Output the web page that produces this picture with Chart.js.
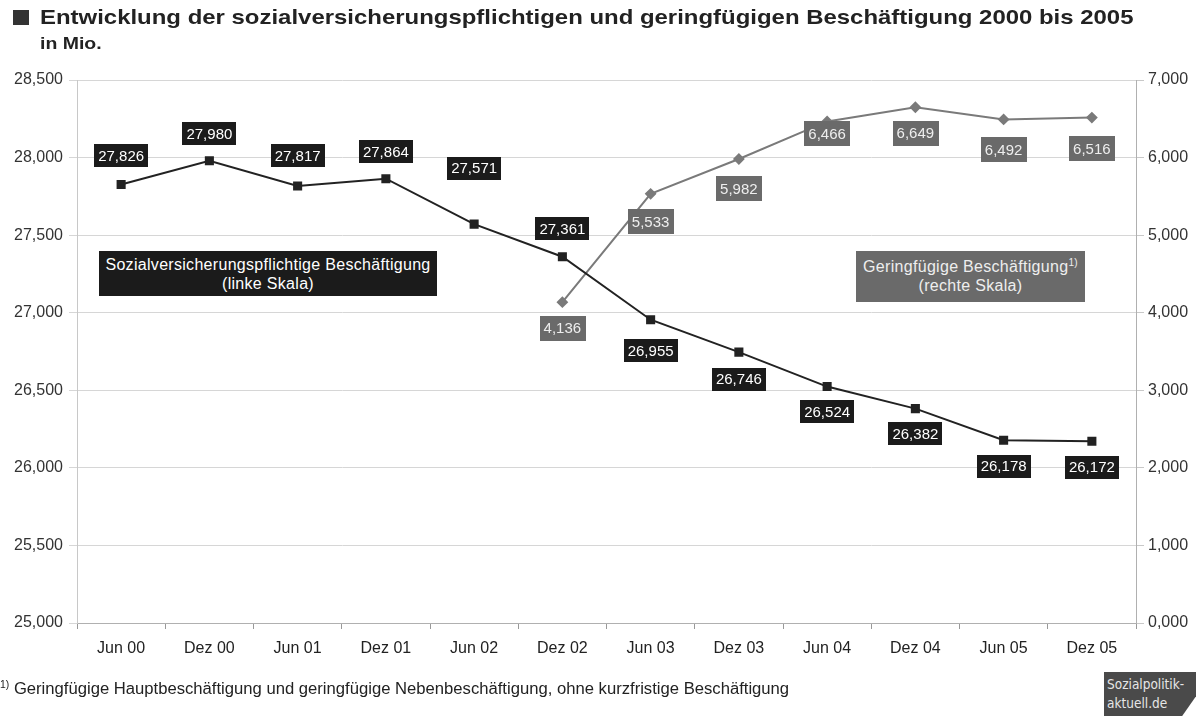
<!DOCTYPE html>
<html><head><meta charset="utf-8">
<script src="https://cdn.jsdelivr.net/npm/chart.js@4/dist/chart.umd.min.js"></script>
<style>
html,body{margin:0;padding:0;background:#fff;}
body{width:1204px;height:719px;position:relative;overflow:hidden;font-family:"Liberation Sans",Arial,sans-serif;color:#222;}
#c{position:absolute;left:0;top:0;}
.t1{position:absolute;left:40px;top:5px;font-weight:bold;font-size:21px;white-space:nowrap;transform:scaleX(1.14);transform-origin:0 0;}
.sq{position:absolute;left:13px;top:10px;width:16px;height:15px;background:#333;}
.t2{position:absolute;left:40px;top:34px;font-weight:bold;font-size:16.5px;transform:scaleX(1.18);transform-origin:0 0;}
.box{position:absolute;text-align:center;font-size:16px;line-height:19px;letter-spacing:0.3px;}
.b1{left:99px;top:251px;width:338px;height:45px;background:#1b1b1b;color:#fff;padding-top:4px;box-sizing:border-box;}
.b2{left:856px;top:251px;width:229px;height:51px;background:#6a6a6a;color:#eee;padding-top:6px;box-sizing:border-box;}
sup{font-size:10px;line-height:0;}
.foot{position:absolute;left:0;top:680px;font-size:16px;white-space:nowrap;transform:scaleX(1.04);transform-origin:0 0;}
.logo{position:absolute;left:1104px;top:672px;width:92px;height:44px;background:#4a4a4a;clip-path:polygon(0 0,100% 0,100% 55%,85% 100%,0 100%);color:#e6e6e6;font-family:"DejaVu Sans Condensed","DejaVu Sans",sans-serif;font-size:13.5px;line-height:19px;padding:3px 0 0 3px;box-sizing:border-box;}
</style></head>
<body>
<canvas id="c" width="1204" height="719"></canvas>
<div class="sq"></div>
<div class="t1">Entwicklung der sozialversicherungspflichtigen und geringfügigen Beschäftigung 2000 bis 2005</div>
<div class="t2">in Mio.</div>
<div class="box b1">Sozialversicherungspflichtige Beschäftigung<br>(linke Skala)</div>
<div class="box b2">Geringfügige Beschäftigung<sup>1)</sup><br>(rechte Skala)</div>
<div class="foot"><sup>1)</sup> Geringfügige Hauptbeschäftigung und geringfügige Nebenbeschäftigung, ohne kurzfristige Beschäftigung</div>
<div class="logo">Sozialpolitik-<br>aktuell.de</div>
<script>
const categories = ["Jun 00","Dez 00","Jun 01","Dez 01","Jun 02","Dez 02","Jun 03","Dez 03","Jun 04","Dez 04","Jun 05","Dez 05"];
const sozialValues = [27826,27980,27817,27864,27571,27361,26955,26746,26524,26382,26178,26172];
const geringValues = [null,null,null,null,null,4136,5533,5982,6466,6649,6492,6516];
const leftTicks = [25000,25500,26000,26500,27000,27500,28000,28500];
const rightTicks = [0,1000,2000,3000,4000,5000,6000,7000];

const fmt = v => (v/1000).toFixed(3).replace('.', ',');
const FONT = '"Liberation Sans", Arial, sans-serif';

const labelOffsets = {
  0: [-29,-27,-30,-27,-56,-28,31,27,25,25,26,26],
  1: [0,0,0,0,0,26,28,30,12,26,30,31]
};
const labelBoxes = {
  0: {bg:'#1b1b1b', fg:'#ffffff', h:23},
  1: {bg:'#6a6a6a', fg:'#eeeeee', h:25}
};

const labelPlugin = {
  id:'valueLabels',
  afterDatasetsDraw(chart){
    const ctx = chart.ctx;
    ctx.save();
    ctx.font = '15px ' + FONT;
    ctx.textAlign = 'center';
    ctx.textBaseline = 'middle';
    chart.data.datasets.forEach((ds, di) => {
      const meta = chart.getDatasetMeta(di);
      meta.data.forEach((pt, i) => {
        const v = ds.data[i];
        if (v === null || v === undefined) return;
        const txt = fmt(v);
        const w = ctx.measureText(txt).width + 8;
        const h = labelBoxes[di].h;
        const cx = pt.x, cy = pt.y + labelOffsets[di][i];
        ctx.fillStyle = labelBoxes[di].bg;
        ctx.fillRect(Math.round(cx - w/2), Math.round(cy - h/2), Math.round(w), h);
        ctx.fillStyle = labelBoxes[di].fg;
        ctx.fillText(txt, cx, cy + 1);
      });
    });
    ctx.restore();
  }
};

new Chart(document.getElementById('c'), {
  type:'line',
  data:{
    labels: categories,
    datasets:[
      {label:'Sozialversicherungspflichtige Beschäftigung', data: sozialValues, yAxisID:'yL',
       borderColor:'#222', backgroundColor:'#222', borderWidth:2, pointStyle:'rect', pointRadius:5, pointHoverRadius:5, tension:0},
      {label:'Geringfügige Beschäftigung', data: geringValues, yAxisID:'yR',
       borderColor:'#7a7a7a', backgroundColor:'#7a7a7a', borderWidth:2, pointStyle:'rectRot', pointRadius:4.5, pointHoverRadius:4.5, tension:0, spanGaps:false}
    ]
  },
  options:{
    responsive:false, animation:false, devicePixelRatio:1,
    layout:{padding:{top:80,bottom:56,left:0,right:0}},
    plugins:{legend:{display:false}, tooltip:{enabled:false}, title:{display:false}},
    scales:{
      x:{offset:true,
         grid:{display:true, drawOnChartArea:false, offset:true, tickLength:6, color:'#999'},
         border:{color:'#b0b0b0'},
         ticks:{font:{size:16, family:FONT}, color:'#222', padding:10, maxRotation:0},
         afterFit: s => { s.height = 40; }},
      yL:{position:'left', min:25000, max:28500,
          afterBuildTicks: s => { s.ticks = leftTicks.map(v => ({value:v})); },
          ticks:{callback: v => fmt(v), font:{size:16, family:FONT}, color:'#333', padding:6},
          grid:{color:'#d6d6d6', tickLength:8},
          border:{color:'#c8c8c8'},
          afterFit: s => { s.width = 77; }},
      yR:{position:'right', min:0, max:7000,
          afterBuildTicks: s => { s.ticks = rightTicks.map(v => ({value:v})); },
          ticks:{callback: v => fmt(v), font:{size:16, family:FONT}, color:'#333', padding:4},
          grid:{drawOnChartArea:false, color:'#c8c8c8', tickLength:8},
          border:{color:'#b0b0b0'},
          afterFit: s => { s.width = 68; }}
    }
  },
  plugins:[labelPlugin]
});
</script>
</body></html>
